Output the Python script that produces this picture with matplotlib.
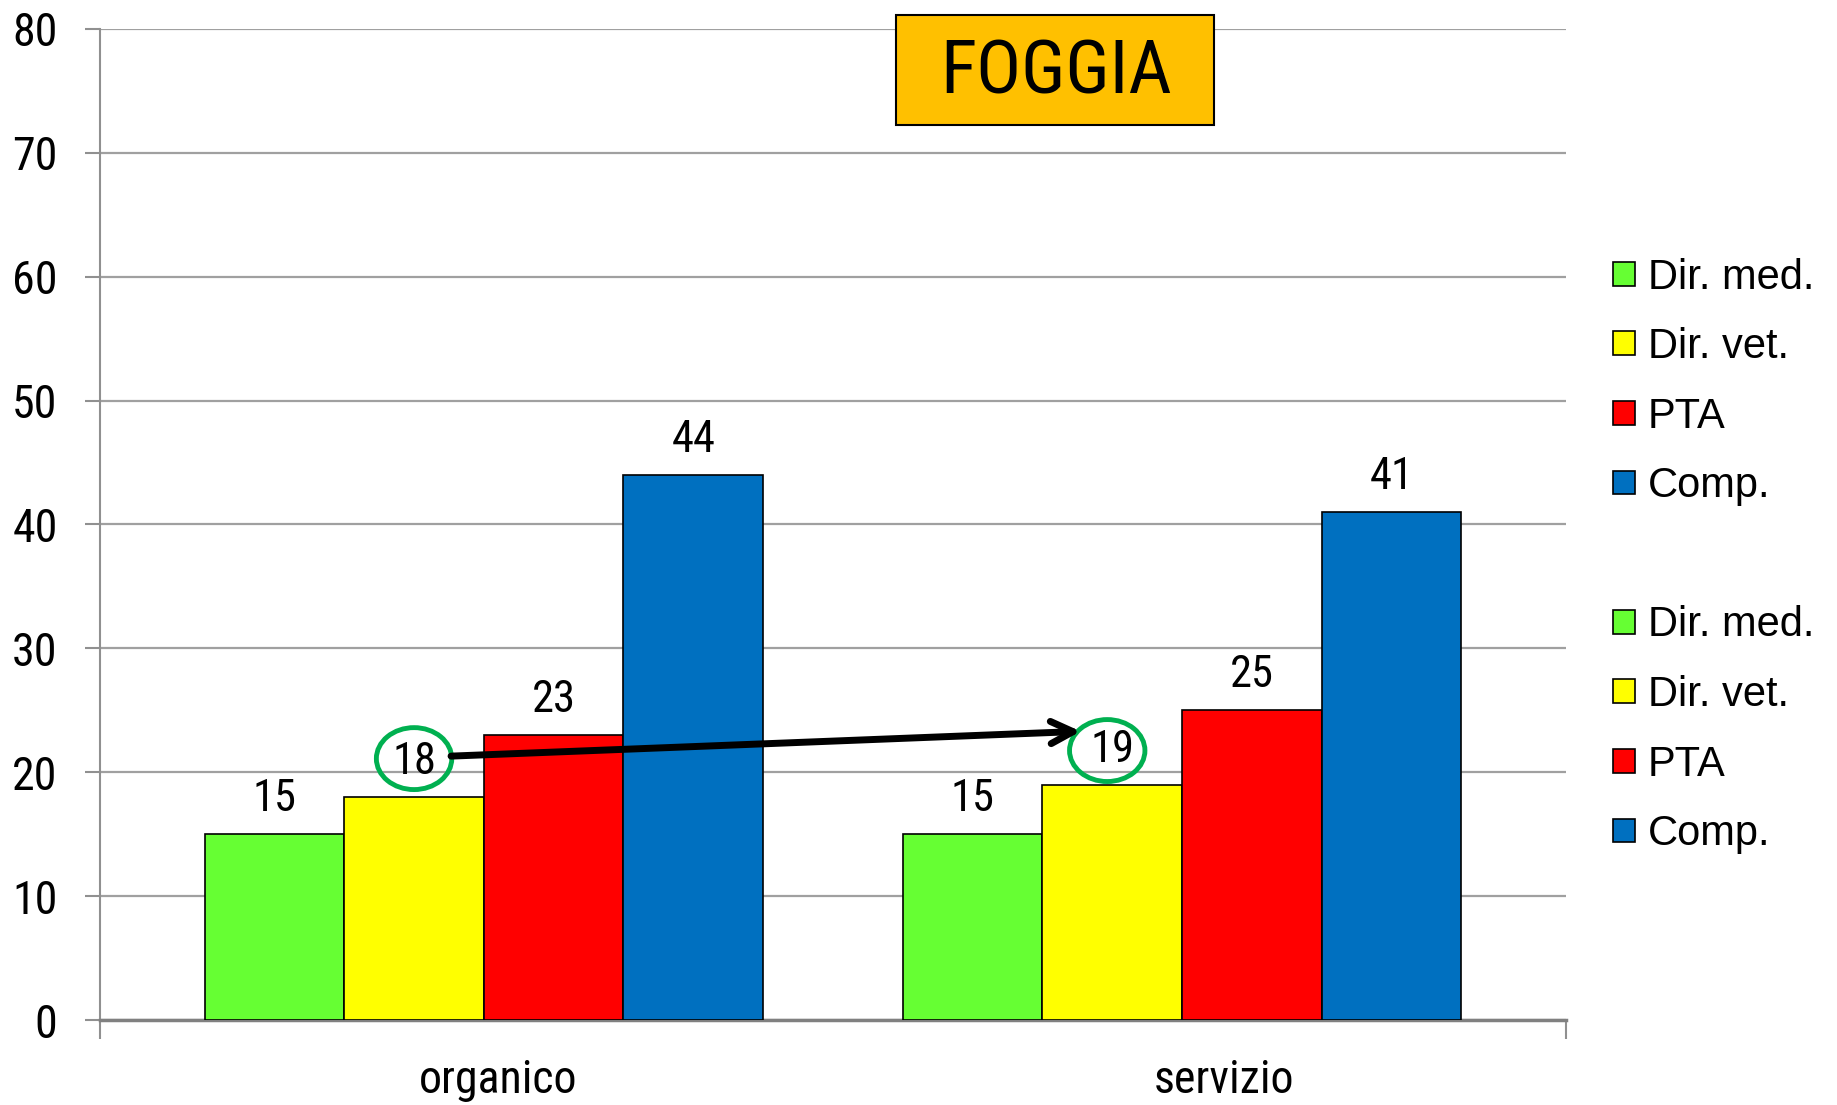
import numpy as np
import matplotlib
matplotlib.use("Agg")
import matplotlib.pyplot as plt
from matplotlib.patches import Ellipse, Patch, Rectangle

categories = ["organico", "servizio"]
series = ["Dir. med.", "Dir. vet.", "PTA", "Comp."]
organico = [15, 18, 23, 44]
servizio = [15, 19, 25, 41]
colors = ["#66FF33", "#FFFF00", "#FF0000", "#0070C0"]
yticks = [0, 10, 20, 30, 40, 50, 60, 70, 80]

plt.rcParams["font.family"] = ["Roboto Condensed", "DejaVu Sans"]

fig = plt.figure(figsize=[18.37, 11.05], dpi=100)
ax = fig.add_axes([0.0544, 0.0769, 0.798, 0.897])

values = np.array([organico, servizio])
x = np.arange(len(categories))
w = 0.2
for i, name in enumerate(series):
    pos = x + (i - 1.5) * w
    ax.bar(pos, values[:, i], w, color=colors[i], edgecolor="black",
           linewidth=1.2, label=name, zorder=3)
    for xp, v in zip(pos, values[:, i]):
        ax.annotate(str(v), (xp, v), xytext=(0, 10), textcoords="offset points",
                    ha="center", va="bottom", fontsize=32, zorder=5)

ax.set_xlim(-0.55, 1.55)
ax.set_ylim(0, 80)
ax.set_yticks(yticks)
ax.set_yticklabels([str(t) for t in yticks], fontsize=33)
ax.set_xticks(x + np.array([0.02, 0.06]))
ax.set_xticklabels(categories, fontsize=33)
ax.tick_params(axis="x", length=0, pad=27)
ax.tick_params(axis="y", length=11, color="#909090", width=1.5, pad=19.5)
ax.set_xticks([-0.55, 1.55], minor=True)
ax.tick_params(axis="x", which="minor", length=14, color="#909090", width=1.5)
ax.grid(axis="y", color="#a0a0a0", linewidth=1.6, zorder=0)
for s in ["top", "right"]:
    ax.spines[s].set_visible(False)
ax.spines["left"].set_color("#909090")
ax.spines["left"].set_linewidth(1.5)
ax.spines["bottom"].set_color("#808080")
ax.spines["bottom"].set_linewidth(2.5)

# green ellipses around the Dir. vet. labels and arrow between them
for xc, yc in [(x[0] - 0.1, organico[1] + 3.1), (x[1] - 0.107, servizio[1] + 2.75)]:
    ax.add_patch(Ellipse((xc, yc), 0.108, 5.0, fill=False,
                         edgecolor="#00B050", linewidth=3.5, zorder=6))
ax.annotate("", xy=(x[1] - 0.145, 23.3), xytext=(x[0] - 0.047, 21.3),
            arrowprops=dict(arrowstyle="->", color="black", lw=5,
                            mutation_scale=40, shrinkA=0, shrinkB=0), zorder=7)

# title box
fig.add_artist(Rectangle((0.4878, 0.8869), 0.1731, 0.0995, transform=fig.transFigure,
                         facecolor="#FFC000", edgecolor="black", linewidth=1.5, zorder=8))
fig.text(0.5747, 0.934, "FOGGIA", fontsize=54, ha="center", va="center", zorder=9)

# legend: the four series listed twice
handles = [Patch(facecolor=c, edgecolor="black", linewidth=1.2) for c in colors]
blank = Patch(facecolor="none", edgecolor="none")
leg = fig.legend(handles + [blank] + handles, series + [""] + series,
                 loc="upper left", bbox_to_anchor=(0.869, 0.782), frameon=False,
                 prop={"family": ["Liberation Sans", "DejaVu Sans"], "size": 30},
                 handlelength=0.53, handleheight=0.5, handletextpad=0.3,
                 labelspacing=0.71, borderaxespad=0)

fig.savefig("out.png", dpi=100)
